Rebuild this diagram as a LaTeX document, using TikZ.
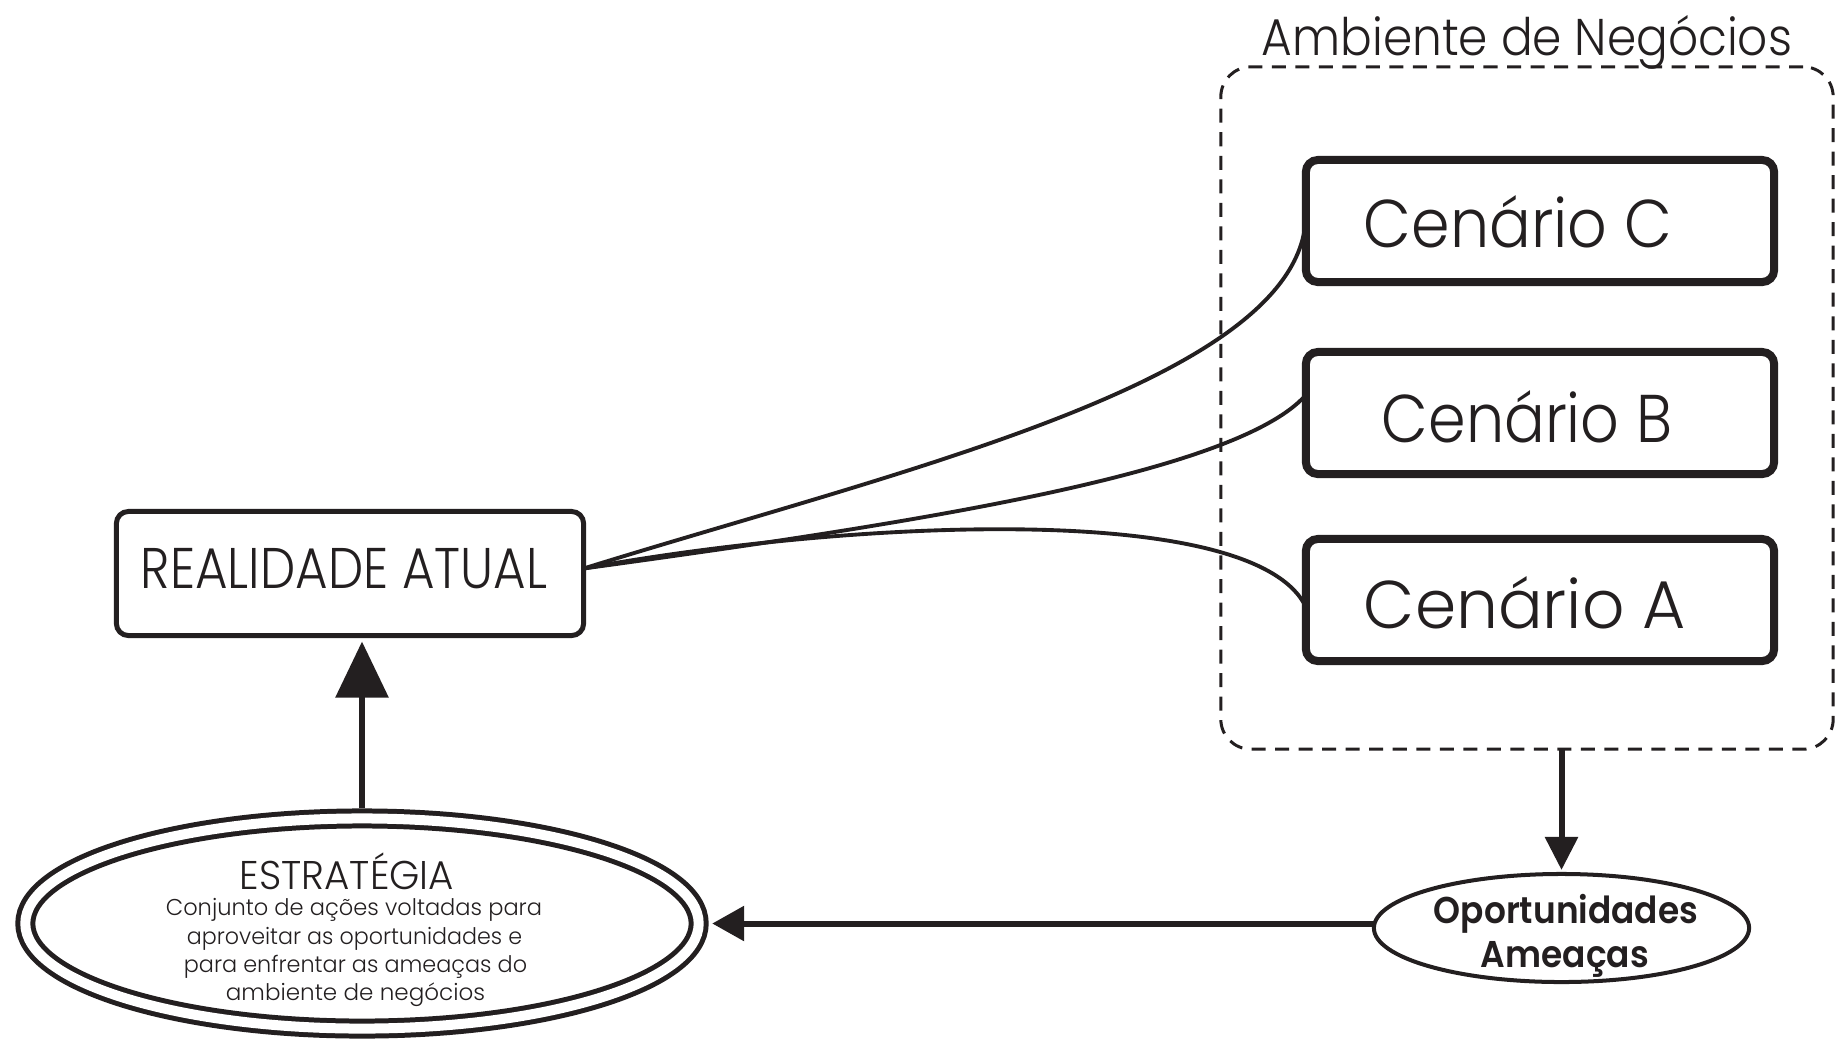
\documentclass[tikz,border=0pt]{standalone}
\usepackage{graphicx}
\usepackage{fontspec}
\setmainfont{Poppins}[UprightFont=* Light, BoldFont=* SemiBold]
\usetikzlibrary{arrows.meta,shapes.geometric,calc}
\definecolor{ink}{RGB}{35,31,32}
% set a label to a given width, keeping its natural height
\newcommand\fitw[2]{\resizebox{#1}{\height}{#2}}

\begin{document}
\begin{tikzpicture}[x=0.01cm, y=-0.01cm,
  every node/.style={outer sep=0pt, inner sep=0pt, text=ink},
  envbox/.style={draw=ink, line width=0.85pt, dash pattern=on 0.14cm off 0.095cm,
    rounded corners=0.3cm, minimum width=6.12cm, minimum height=6.82cm},
  realbox/.style={draw=ink, line width=1.42pt, rounded corners=0.12cm,
    minimum width=4.67cm, minimum height=1.24cm},
  cenbox/.style={draw=ink, line width=2.28pt, rounded corners=0.12cm,
    minimum width=4.68cm, minimum height=1.22cm},
  stratring/.style={ellipse, draw=ink, line width=1.42pt, double, double distance=0.1cm,
    minimum width=6.73cm, minimum height=2.10cm},
  opring/.style={ellipse, draw=ink, line width=1.14pt, minimum width=3.75cm, minimum height=1.08cm},
  link/.style={draw=ink, line width=1.1pt},
  flow/.style={draw=ink, line width=1.7pt},
  titletxt/.style={anchor=base, font=\fontsize{14.7}{17}\selectfont},
  centxt/.style={anchor=base, font=\fontsize{19.2}{22}\selectfont},
  realtxt/.style={anchor=base, font=\fontsize{16.3}{19}\selectfont},
  strattxt/.style={anchor=base, font=\fontsize{11.4}{13}\selectfont},
  parttxt/.style={anchor=base, font=\fontsize{6.5}{8}\selectfont},
  optxt/.style={anchor=base, font=\bfseries\fontsize{10.6}{12}\selectfont}
]
\useasboundingbox (0,0) rectangle (1836,1039);

% business environment frame
\node[envbox] (env) at (1527,408) {};
\node[titletxt] (envtitle) at (1527,55) {\fitw{5.30cm}{Ambiente de Negócios}};

% scenarios
\node[cenbox] (C) at (1540,221) {};
\node[cenbox] (B) at (1540,413) {};
\node[cenbox] (A) at (1540,600) {};
\node[centxt] (Ct) at (1518,247) {\fitw{3.08cm}{Cenário C}};
\node[centxt] (Bt) at (1527,442) {\fitw{2.90cm}{Cenário B}};
\node[centxt] (At) at (1525,628) {\fitw{3.22cm}{Cenário A}};

% current reality
\node[realbox] (R) at (350,573.5) {};
\node[realtxt] (Rt) at (344,588) {\fitw{4.06cm}{REALIDADE ATUAL}};

% strategy
\node[stratring] (E) at (362,923.5) {};
\node[strattxt] (Et) at (347,889) {\fitw{2.14cm}{ESTRATÉGIA}};
\node[parttxt] (p1) at (354,915) {\fitw{3.76cm}{Conjunto de ações voltadas para}};
\node[parttxt] (p2) at (354.5,944) {\fitw{3.35cm}{aproveitar as oportunidades e}};
\node[parttxt] (p3) at (355.5,972) {\fitw{3.43cm}{para enfrentar as ameaças do}};
\node[parttxt] (p4) at (355.5,1000) {\fitw{2.59cm}{ambiente de negócios}};

% opportunities / threats
\node[opring] (O) at (1561.5,928) {};
\node[optxt] (Ot1) at (1566,923) {\fitw{2.64cm}{Oportunidades}};
\node[optxt] (Ot2) at (1565,967) {\fitw{1.68cm}{Ameaças}};

% links from the current reality to each scenario
\coordinate (Rout) at ([yshift=0.05cm]R.east);
\draw[link] (Rout) .. controls (900,470) and (1300,380) .. ([yshift=0.04cm]C.west);
\draw[link] (Rout) .. controls (900,525) and (1235,475) .. ([yshift=0.18cm]B.west);
\draw[link] (Rout) .. controls (850,520) and (1255,500) .. ([yshift=-0.07cm]A.west);

% flow arrows
\draw[flow, -{Triangle[length=0.56cm,width=0.52cm]}, shorten <=0.1cm, shorten >=0.06cm]
  (E.north) -- (E.north |- R.south);
\draw[flow, -{Triangle[length=0.33cm,width=0.32cm]}, shorten >=0.04cm]
  (O.north |- env.south) -- (O.north);
\draw[flow, -{Triangle[length=0.32cm,width=0.34cm]}, shorten >=0.135cm]
  (O.west |- E.east) -- (E.east);
\end{tikzpicture}
\end{document}
